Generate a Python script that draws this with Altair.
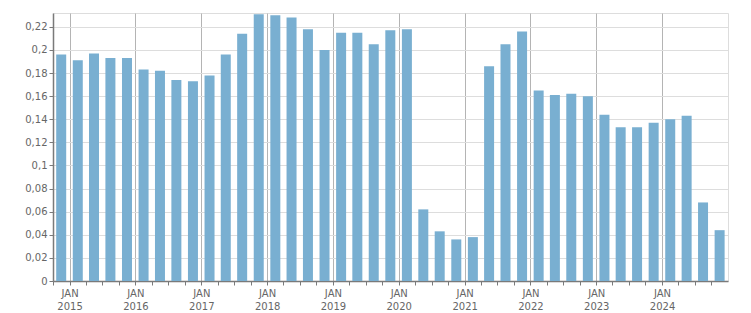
import altair as alt
import pandas as pd

# quarter start dates (Q4 2014 .. Q4 2024)
quarters = [f"{y}-{m:02d}-01" for y, m in [(2014, 10)] + [(y, m) for y in range(2015, 2025) for m in (1, 4, 7, 10)]]
values = [
    0.196, 0.191, 0.197, 0.193, 0.193, 0.183, 0.182, 0.174, 0.173, 0.178,
    0.196, 0.214, 0.231, 0.230, 0.228, 0.218, 0.200, 0.215, 0.215, 0.205,
    0.217, 0.218, 0.062, 0.043, 0.036, 0.038, 0.186, 0.205, 0.216, 0.165,
    0.161, 0.162, 0.160, 0.144, 0.133, 0.133, 0.137, 0.140, 0.143, 0.068,
    0.044,
]
y_ticks = [0, 0.02, 0.04, 0.06, 0.08, 0.1, 0.12, 0.14, 0.16, 0.18, 0.2, 0.22]
x_ticks = [f"{y}-{m:02d}-01" for y in range(2015, 2025) for m in (1, 4, 7, 10)] + ["2014-10-01"]

df = pd.DataFrame({"q": quarters, "v": values})

axis_color = "#7a7a7a"
label_color = "#666666"

chart = (
    alt.Chart(df)
    .transform_calculate(mid="time(toDate(datum.q)) + 45.5*86400000")
    .mark_bar(color="#79afd1", size=10)
    .encode(
        x=alt.X(
            "mid:T",
            title=None,
            scale=alt.Scale(
                type="utc",
                domain=[alt.DateTime(year=2014, month=10, date=1, utc=True),
                        alt.DateTime(year=2025, month=1, date=1, utc=True)],
                nice=False,
                padding=0,
            ),
            axis=alt.Axis(
                values=[alt.DateTime(year=int(s[:4]), month=int(s[5:7]), date=1, utc=True) for s in x_ticks],
                labelExpr="utcmonth(datum.value)==0 ? ['JAN', utcyear(datum.value)+''] : ''",
                grid=True,
                gridColor={"condition": {"test": "utcmonth(datum.value)==0", "value": "#b4b4b4"}, "value": "transparent"},
                gridWidth=1,
                domainColor=axis_color,
                domainWidth=1.5,
                tickColor=axis_color,
                tickSize=4,
                labelColor=label_color,
                labelFont="DejaVu Sans",
                labelFontSize=10,
                labelLineHeight=13,
                labelPadding=3,
                labelBaseline="top",
            ),
        ),
        y=alt.Y(
            "v:Q",
            title=None,
            scale=alt.Scale(domain=[0, 0.232], nice=False, zero=True),
            axis=alt.Axis(
                values=y_ticks,
                labelExpr="replace(format(datum.value, '.2~f'), '.', ',')",
                gridColor="#dddddd",
                domainColor=axis_color,
                domainWidth=1.5,
                tickColor=axis_color,
                tickSize=4,
                labelColor=label_color,
                labelFont="DejaVu Sans",
                labelFontSize=10,
                labelPadding=2,
            ),
        ),
    )
    .properties(
        width=675,
        height=268,
        padding={"left": 53, "top": 13, "right": 23, "bottom": 32},
        autosize=alt.AutoSizeParams(type="none"),
    )
    .configure_view(stroke="#dcdcdc")
    .configure(background="white")
)

chart.save("out.html", embed_options={"renderer": "svg", "actions": False})
